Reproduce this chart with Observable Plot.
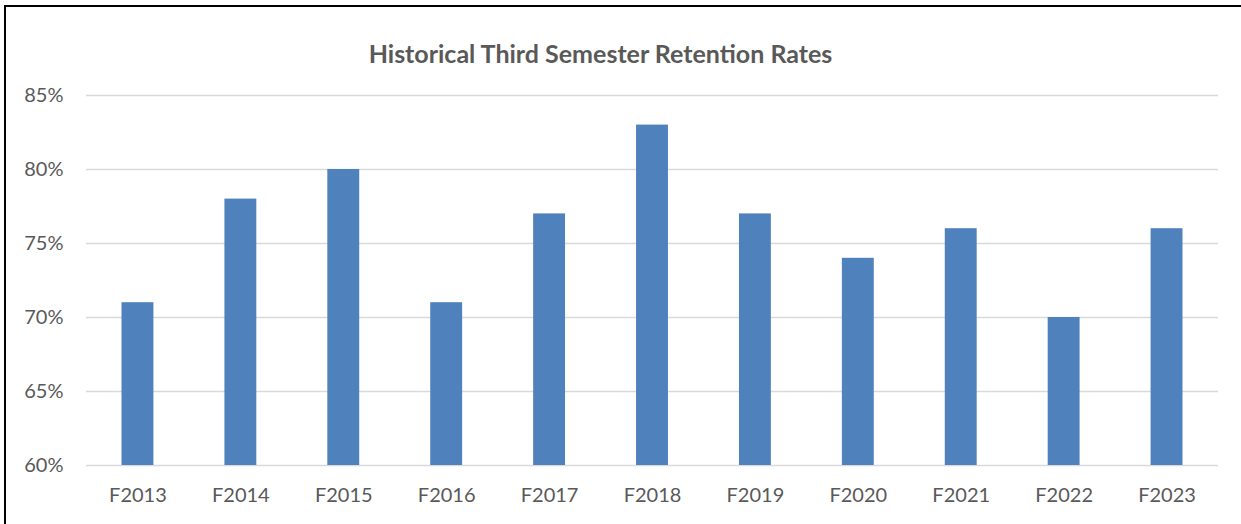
<!DOCTYPE html>
<html>
<head>
<meta charset="utf-8">
<script src="https://cdn.jsdelivr.net/npm/d3@7"></script>
<script src="https://cdn.jsdelivr.net/npm/@observablehq/plot@0.6"></script>
<style>
  html, body { margin: 0; padding: 0; background: #fff; }
  body { width: 1241px; height: 524px; overflow: hidden; position: relative; font-family: Lato, "Open Sans", sans-serif; }
  #frame { position: absolute; left: 4px; top: 5px; width: 1400px; height: 700px; border-left: 2px solid #000; border-top: 2px solid #000; box-sizing: border-box; pointer-events: none; }
  #title { position: absolute; left: 0; top: 38px; width: 1201px; text-align: center; font-weight: bold; font-size: 25px; color: #595959; line-height: 30px; }
  #chart { position: absolute; left: 0; top: 80px; }
</style>
</head>
<body>
<div id="frame"></div>
<div id="title">Historical Third Semester Retention Rates</div>
<div id="chart"></div>
<script>
const terms = ["F2013","F2014","F2015","F2016","F2017","F2018","F2019","F2020","F2021","F2022","F2023"];
const rates = [0.71,0.78,0.80,0.71,0.77,0.83,0.77,0.74,0.76,0.70,0.76];
const yTicks = [0.60,0.65,0.70,0.75,0.80,0.85];

const data = terms.map((t, i) => ({term: t, rate: rates[i]}));

const chart = Plot.plot({
  width: 1241,
  height: 444,
  marginLeft: 86,
  marginRight: 23,
  marginTop: 15,
  marginBottom: 59,
  style: { fontFamily: "Lato, 'Open Sans', sans-serif", fontSize: "20px", color: "#595959", background: "transparent" },
  x: { domain: terms, paddingInner: 0.69, paddingOuter: 0.345, round: false, label: null },
  y: { domain: [0.60, 0.85], label: null },
  marks: [
    Plot.ruleY(yTicks, { stroke: "#d9d9d9", strokeWidth: 1.5 }),
    Plot.barY(data, { x: "term", y1: 0.60, y2: "rate", fill: "#4f81bd" }),
    Plot.axisY({ ticks: yTicks, tickFormat: d3.format(".0%"), tickSize: 0, tickPadding: 23, label: null, fill: "#595959", fontSize: 20 }),
    Plot.axisX({ tickSize: 0, tickPadding: 22, label: null, fill: "#595959", fontSize: 20 })
  ]
});
document.getElementById("chart").appendChild(chart);
</script>
</body>
</html>
